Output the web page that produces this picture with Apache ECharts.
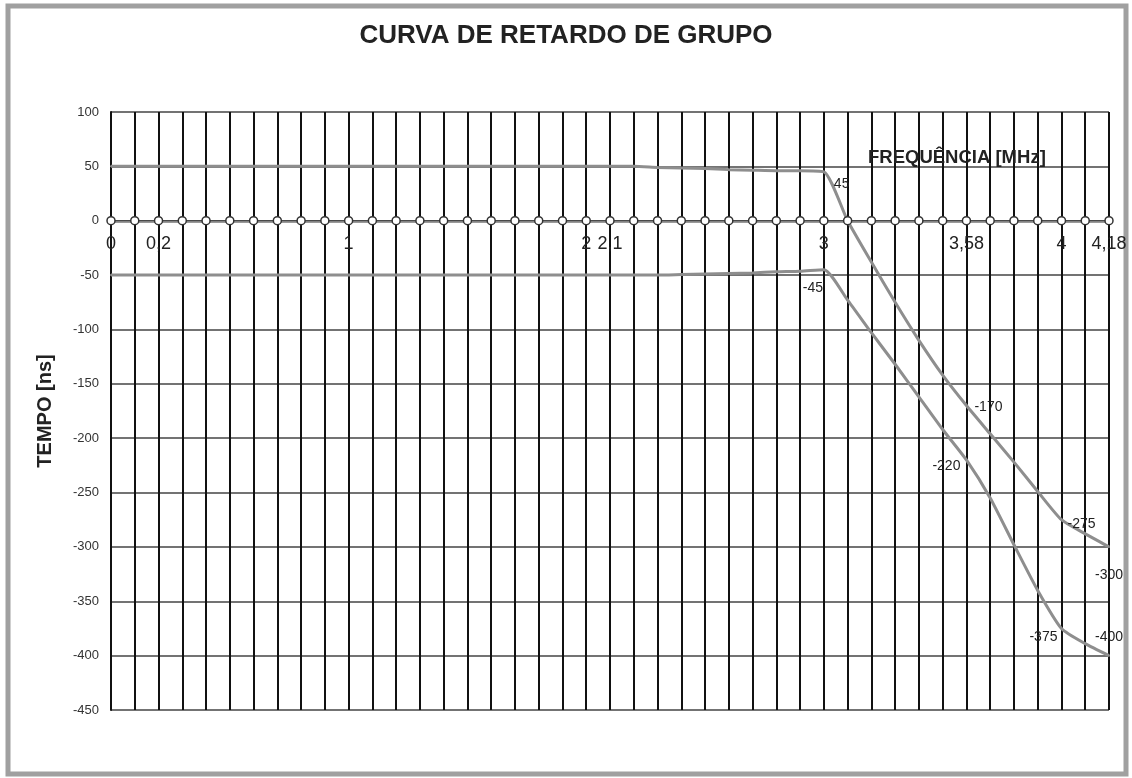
<!DOCTYPE html>
<html>
<head>
<meta charset="utf-8">
<title>Curva de retardo de grupo</title>
<script src="https://cdn.jsdelivr.net/npm/echarts/dist/echarts.min.js"></script>
<style>
    html, body {margin: 0; padding: 0; background: #fff;}
    #chart {width: 1132px; height: 778px;}
</style>
</head>
<body>
<div id="chart"></div>
<script>
// frequencias (MHz) - eixo de categorias
var categories = ['0', '0,1', '0,2', '0,3', '0,4', '0,5', '0,6', '0,7', '0,8', '0,9',
    '1', '1,1', '1,2', '1,3', '1,4', '1,5', '1,6', '1,7', '1,8', '1,9',
    '2', '2,1', '2,2', '2,3', '2,4', '2,5', '2,6', '2,7', '2,8', '2,9',
    '3', '3,1', '3,2', '3,3', '3,4', '3,5', '3,58', '3,7', '3,8', '3,9',
    '4', '4,1', '4,18'];

// so estes aparecem no eixo
var tickLabels = ['0', '0,2', '1', '2', '2,1', '3', '3,58', '4', '4,18'];

var yTicks = [100, 50, 0, -50, -100, -150, -200, -250, -300, -350, -400, -450];

// limite superior [ns]
var upperDelay = [50, 50, 50, 50, 50, 50, 50, 50, 50, 50,
    50, 50, 50, 50, 50, 50, 50, 50, 50, 50,
    50, 50, 50, 49, 48.5, 48, 47, 46.5, 46, 46,
    45, 0, -38, -75, -110, -142, -170, -196, -222, -249,
    -275, -288, -300];

// limite inferior [ns]
var lowerDelay = [-50, -50, -50, -50, -50, -50, -50, -50, -50, -50,
    -50, -50, -50, -50, -50, -50, -50, -50, -50, -50,
    -50, -50, -50, -50, -49.5, -49, -48.5, -48, -47, -46.5,
    -45, -73, -103, -132, -162, -192, -220, -255, -298, -340,
    -375, -389, -400];

var zeroLine = [0, 0, 0, 0, 0, 0, 0, 0, 0, 0,
    0, 0, 0, 0, 0, 0, 0, 0, 0, 0,
    0, 0, 0, 0, 0, 0, 0, 0, 0, 0,
    0, 0, 0, 0, 0, 0, 0, 0, 0, 0,
    0, 0, 0];

// indices com rotulo de valor
var upperLabelIdx = [30, 36, 40, 42];
var lowerLabelIdx = [30, 36, 40, 42];

var font = '"Liberation Sans", Arial, sans-serif';
var curveColor = '#8e8e8e';

var labelPos = {
    upper: {
        30: {position: 'right', offset: [4, 12]},
        36: {position: 'right', offset: [2, 2]},
        40: {position: 'right', offset: [0, 4]},
        42: {position: 'bottom', distance: 20, offset: [0, 0]}
    },
    lower: {
        30: {position: 'bottom', distance: 10, offset: [-11, 0]},
        36: {position: 'left', offset: [0, 6]},
        40: {position: 'left', offset: [2, 9]},
        42: {position: 'top', distance: 10, offset: [0, 0]}
    }
};

function withLabels(values, idx, pos) {
    return values.map(function (v, i) {
        if (idx.indexOf(i) < 0) return v;
        var p = pos[i];
        return {
            value: v,
            label: {
                show: true,
                position: p.position,
                distance: p.distance || 5,
                offset: p.offset,
                color: '#222',
                fontSize: 14,
                fontFamily: font
            }
        };
    });
}

var option = {
    animation: false,
    backgroundColor: '#fff',
    title: [{
        text: 'CURVA DE RETARDO DE GRUPO',
        left: 'center',
        top: 18,
        textStyle: {fontFamily: font, fontSize: 26, fontWeight: 'bold', color: '#222'}
    }, {
        text: 'FREQUÊNCIA [MHz]',
        left: 863,
        top: 143,
        textStyle: {fontFamily: font, fontSize: 18.5, fontWeight: 'bold', color: '#222'}
    }],
    grid: {
        left: 111,
        right: 23,
        top: 112,
        bottom: 68,
        containLabel: false
    },
    xAxis: {
        type: 'category',
        data: categories,
        boundaryGap: false,
        // eixo desenhado na linha do zero
        offset: -489,
        axisLine: {show: true, onZero: false, lineStyle: {color: '#9a9a9a', width: 3}},
        axisTick: {show: false},
        axisLabel: {
            interval: 0,
            margin: 14,
            fontSize: 18,
            fontFamily: font,
            color: '#222',
            formatter: function (v) {
                return tickLabels.indexOf(v) >= 0 ? v : '';
            }
        },
        splitLine: {show: true, interval: 0, lineStyle: {color: '#111', width: 2}}
    },
    yAxis: {
        type: 'value',
        min: -450,
        max: 100,
        interval: 50,
        name: 'TEMPO [ns]',
        nameLocation: 'middle',
        nameGap: 56,
        nameTextStyle: {fontFamily: font, fontSize: 20, fontWeight: 'bold', color: '#222'},
        axisLine: {show: true, lineStyle: {color: '#111', width: 2}},
        axisTick: {show: false},
        axisLabel: {
            margin: 12,
            fontSize: 13,
            fontFamily: font,
            color: '#333',
            formatter: function (v) {
                return yTicks.indexOf(v) >= 0 ? String(v) : '';
            }
        },
        splitLine: {show: true, lineStyle: {color: '#444', width: 1.5}}
    },
    graphic: [{
        type: 'rect',
        silent: true,
        shape: {x: 8, y: 6, width: 1118, height: 768},
        style: {fill: 'none', stroke: '#a0a0a0', lineWidth: 5}
    }],
    series: [{
        name: 'superior',
        type: 'line',
        data: withLabels(upperDelay, upperLabelIdx, labelPos.upper),
        smooth: 0.2,
        symbol: 'circle',
        symbolSize: 2,
        showSymbol: true,
        itemStyle: {color: curveColor},
        lineStyle: {color: curveColor, width: 3},
        z: 3
    }, {
        name: 'inferior',
        type: 'line',
        data: withLabels(lowerDelay, lowerLabelIdx, labelPos.lower),
        smooth: 0.2,
        symbol: 'circle',
        symbolSize: 2,
        showSymbol: true,
        itemStyle: {color: curveColor},
        lineStyle: {color: curveColor, width: 3},
        z: 3
    }, {
        name: 'zero',
        type: 'line',
        data: zeroLine,
        symbol: 'circle',
        symbolSize: 8,
        itemStyle: {color: '#fff', borderColor: '#333', borderWidth: 1.5},
        lineStyle: {color: '#333', width: 1},
        z: 4
    }]
};

var myChart = echarts.init(document.getElementById('chart'));
myChart.setOption(option);
</script>
</body>
</html>
